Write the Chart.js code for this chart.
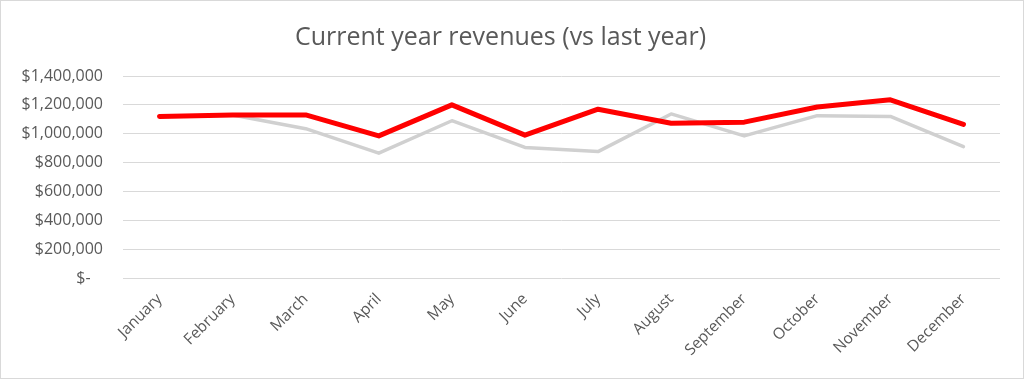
<!DOCTYPE html>
<html>
<head>
<meta charset="utf-8">
<script src="https://cdn.jsdelivr.net/npm/chart.js@4/dist/chart.umd.min.js"></script>
<style>
  html, body { margin: 0; padding: 0; background: #ffffff; }
  #wrap { width: 1024px; height: 379px; box-sizing: border-box; border: 1px solid #d9d9d9; background: #fff; }
  #c { display: block; }
</style>
</head>
<body>
<div id="wrap"><canvas id="c" width="1022" height="377"></canvas></div>
<script>
const months = ["January","February","March","April","May","June","July","August","September","October","November","December"];
const currentYear = [1120000,1130000,1130000,985000,1200000,990000,1170000,1073000,1080000,1185000,1235000,1065000];
const lastYear    = [1120000,1130000,1035000,865000,1090000,905000,876000,1137000,985000,1125000,1120000,910000];
const yTicks = [0,200000,400000,600000,800000,1000000,1200000,1400000];

const fontFamily = "'Open Sans', 'Noto Sans', sans-serif";
const textColor = "#595959";

function fmt(v) {
  if (v === 0) return "$-   ";
  return "$" + v.toLocaleString("en-US");
}

new Chart(document.getElementById("c"), {
  type: "line",
  data: {
    labels: months,
    datasets: [
      { label: "Current year", data: currentYear, borderColor: "#ff0000", backgroundColor: "#ff0000",
        borderWidth: 5, pointRadius: 0, tension: 0, borderCapStyle: "round", borderJoinStyle: "round", order: 0 },
      { label: "Last year", data: lastYear, borderColor: "#d0d0d0", backgroundColor: "#d0d0d0",
        borderWidth: 3.5, pointRadius: 0, tension: 0, borderCapStyle: "round", borderJoinStyle: "round", order: 1 }
    ]
  },
  options: {
    responsive: false,
    animation: false,
    layout: { padding: { left: 0, right: 23, top: 0, bottom: 0 } },
    plugins: {
      legend: { display: false },
      tooltip: { enabled: false },
      title: {
        display: true,
        text: "Current year revenues (vs last year)",
        color: textColor,
        font: { family: fontFamily, size: 25, weight: "normal", lineHeight: 1.2 },
        padding: { top: 22, bottom: 23 }
      }
    },
    scales: {
      x: {
        offset: true,
        grid: { display: false, drawTicks: false },
        border: { display: false },
        ticks: {
          color: textColor,
          font: { family: fontFamily, size: 15.5 },
          minRotation: 45, maxRotation: 45, autoSkip: false, padding: 12
        },
        afterFit: (s) => { s.height = 100; }
      },
      y: {
        min: 0, max: 1400000,
        afterBuildTicks: (s) => { s.ticks = yTicks.map(v => ({ value: v })); },
        grid: { color: "#d9d9d9", lineWidth: 1, drawTicks: false },
        border: { display: false },
        ticks: {
          color: textColor,
          font: { family: fontFamily, size: 16 },
          padding: 20,
          callback: (v) => fmt(v)
        },
        afterFit: (s) => { s.width = 122; }
      }
    }
  }
});
</script>
</body>
</html>
